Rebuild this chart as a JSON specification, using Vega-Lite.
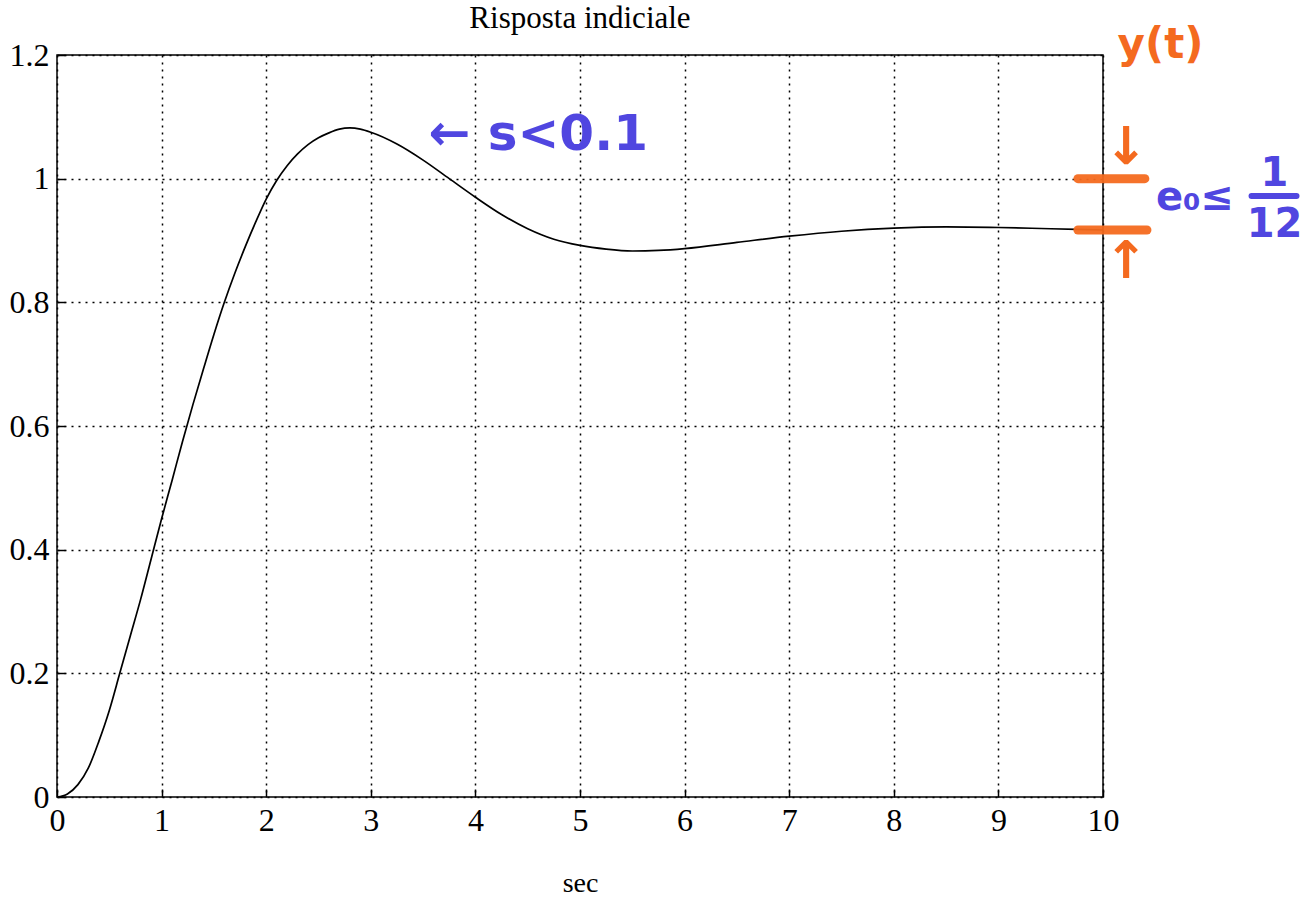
{
  "$schema": "https://vega.github.io/schema/vega-lite/v6.json",
  "autosize": "none",
  "width": 1046,
  "height": 742,
  "padding": {"left": 57, "top": 55, "right": 210, "bottom": 100},
  "background": "white",
  "config": {
    "view": {"stroke": "black", "strokeWidth": 1.5}
  },
  "title": {"text": "Risposta indiciale", "offset": -11, "anchor": "middle", "font": "Liberation Serif", "fontSize": 31, "fontWeight": "normal", "color": "black"},
  "encoding": {
    "x": {"field": "t", "type": "quantitative", "scale": {"domain": [0, 10], "nice": false},
          "axis": {"title": "sec", "values": [0,1,2,3,4,5,6,7,8,9,10], "format": "d",
                   "labelFont": "Liberation Serif", "titleFont": "Liberation Serif", "labelFontSize": 32, "titleFontSize": 28,
                   "labelColor": "black", "titleColor": "black", "titleFontWeight": "normal",
                   "domain": false, "ticks": true, "tickColor": "black", "tickSize": -8, "tickWidth": 1.5,
                   "grid": true, "gridColor": "black", "gridOpacity": 1, "gridDash": [2, 5], "gridWidth": 1.5,
                   "labelPadding": 16, "titlePadding": 33, "labelFlush": false}},
    "y": {"field": "v", "type": "quantitative", "scale": {"domain": [0, 1.2], "nice": false},
          "axis": {"title": null, "values": [0, 0.2, 0.4, 0.6, 0.8, 1, 1.2], "format": "~g",
                   "labelFont": "Liberation Serif", "labelFontSize": 32, "labelColor": "black",
                   "domain": false, "ticks": true, "tickColor": "black", "tickSize": -8, "tickWidth": 1.5,
                   "grid": true, "gridColor": "black", "gridOpacity": 1, "gridDash": [2, 5], "gridWidth": 1.5,
                   "labelPadding": 16, "labelFlush": false}}
  },
  "layer": [
    {
      "data": {"values": [
        {"t": 0, "v": 0}, {"t": 0.1, "v": 0.005}, {"t": 0.2, "v": 0.02}, {"t": 0.3, "v": 0.047},
        {"t": 0.4, "v": 0.09}, {"t": 0.5, "v": 0.14}, {"t": 0.6, "v": 0.2}, {"t": 0.7, "v": 0.26},
        {"t": 0.8, "v": 0.32}, {"t": 0.9, "v": 0.385}, {"t": 1.0, "v": 0.45}, {"t": 1.1, "v": 0.512},
        {"t": 1.2, "v": 0.575}, {"t": 1.3, "v": 0.635}, {"t": 1.4, "v": 0.692}, {"t": 1.5, "v": 0.748},
        {"t": 1.6, "v": 0.8}, {"t": 1.7, "v": 0.847}, {"t": 1.8, "v": 0.89}, {"t": 1.9, "v": 0.93},
        {"t": 2.0, "v": 0.967}, {"t": 2.1, "v": 0.997}, {"t": 2.2, "v": 1.021}, {"t": 2.3, "v": 1.04},
        {"t": 2.4, "v": 1.055}, {"t": 2.5, "v": 1.066}, {"t": 2.6, "v": 1.074}, {"t": 2.7, "v": 1.08},
        {"t": 2.8, "v": 1.082}, {"t": 2.9, "v": 1.08}, {"t": 3.0, "v": 1.075}, {"t": 3.25, "v": 1.056},
        {"t": 3.5, "v": 1.03}, {"t": 3.75, "v": 1.0}, {"t": 4.0, "v": 0.97}, {"t": 4.25, "v": 0.942},
        {"t": 4.5, "v": 0.919}, {"t": 4.75, "v": 0.902}, {"t": 5.0, "v": 0.892}, {"t": 5.25, "v": 0.886},
        {"t": 5.5, "v": 0.883}, {"t": 5.75, "v": 0.884}, {"t": 6.0, "v": 0.887}, {"t": 6.5, "v": 0.897},
        {"t": 7.0, "v": 0.907}, {"t": 7.5, "v": 0.915}, {"t": 8.0, "v": 0.92}, {"t": 8.5, "v": 0.922},
        {"t": 9.0, "v": 0.921}, {"t": 9.5, "v": 0.919}, {"t": 10.0, "v": 0.917}
      ]},
      "mark": {"type": "line", "color": "black", "strokeWidth": 1.7, "interpolate": "monotone"}
    },
    {
      "data": {"values": [{"t": 9.76, "t2": 10.4, "v": 1.0}, {"t": 9.76, "t2": 10.42, "v": 0.917}]},
      "mark": {"type": "rule", "color": "#f46a1f", "strokeWidth": 9, "strokeCap": "round", "opacity": 0.95},
      "encoding": {"x2": {"field": "t2"}}
    },
    {
      "data": {"values": [
        {"label": "y(t)", "t": 10.55, "v": 1.216}
      ]},
      "mark": {"type": "text", "color": "#f46a1f", "font": "DejaVu Sans", "fontWeight": "bold", "fontSize": 42, "align": "center", "baseline": "middle"},
      "encoding": {"text": {"field": "label"}}
    },
    {
      "data": {"values": [
        {"label": "↓", "t": 10.22, "v": 1.05},
        {"label": "↑", "t": 10.22, "v": 0.865}
      ]},
      "mark": {"type": "text", "color": "#f46a1f", "font": "DejaVu Sans", "fontWeight": "bold", "fontSize": 52, "align": "center", "baseline": "middle"},
      "encoding": {"text": {"field": "label"}}
    },
    {
      "data": {"values": [
        {"label": "← s<0.1", "t": 4.6, "v": 1.071}
      ]},
      "mark": {"type": "text", "color": "#5046e0", "font": "DejaVu Sans", "fontWeight": "bold", "fontSize": 50, "align": "center", "baseline": "middle"},
      "encoding": {"text": {"field": "label"}}
    },
    {
      "data": {"values": [
        {"label": "e₀≤", "t": 10.88, "v": 0.968},
        {"label": "1", "t": 11.64, "v": 1.008},
        {"label": "12", "t": 11.64, "v": 0.925}
      ]},
      "mark": {"type": "text", "color": "#5046e0", "font": "DejaVu Sans", "fontWeight": "bold", "fontSize": 40, "align": "center", "baseline": "middle"},
      "encoding": {"text": {"field": "label"}}
    },
    {
      "data": {"values": [{"t": 11.42, "t2": 11.85, "v": 0.972}]},
      "mark": {"type": "rule", "color": "#5046e0", "strokeWidth": 6, "strokeCap": "round"},
      "encoding": {"x2": {"field": "t2"}}
    }
  ]
}
